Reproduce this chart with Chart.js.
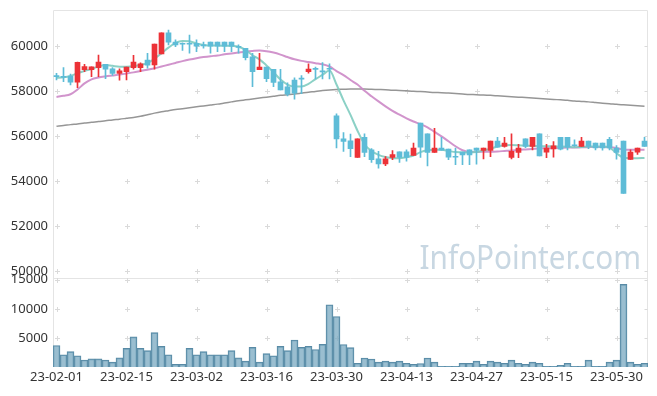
<!DOCTYPE html>
<html><head><meta charset="utf-8">
<script src="https://cdn.jsdelivr.net/npm/chart.js@4"></script>
<style>html,body{margin:0;padding:0;background:#fff}#wrap{width:657px;height:396px}</style>
</head><body><div id="wrap"><canvas id="c" width="657" height="396"></canvas></div>
<script>
const dates = ['23-02-01','23-02-02','23-02-03','23-02-06','23-02-07','23-02-08','23-02-09','23-02-10','23-02-13','23-02-14',
'23-02-15','23-02-16','23-02-17','23-02-20','23-02-21','23-02-22','23-02-23','23-02-24','23-02-27','23-02-28',
'23-03-02','23-03-03','23-03-06','23-03-07','23-03-08','23-03-09','23-03-10','23-03-13','23-03-14','23-03-15',
'23-03-16','23-03-17','23-03-20','23-03-21','23-03-22','23-03-23','23-03-24','23-03-27','23-03-28','23-03-29',
'23-03-30','23-03-31','23-04-03','23-04-04','23-04-05','23-04-06','23-04-07','23-04-10','23-04-11','23-04-12',
'23-04-13','23-04-14','23-04-17','23-04-18','23-04-19','23-04-20','23-04-21','23-04-24','23-04-25','23-04-26',
'23-04-27','23-04-28','23-05-02','23-05-03','23-05-04','23-05-08','23-05-09','23-05-10','23-05-11','23-05-12',
'23-05-15','23-05-16','23-05-17','23-05-18','23-05-19','23-05-22','23-05-23','23-05-24','23-05-25','23-05-26',
'23-05-30','23-05-31','23-06-01','23-06-02','23-06-05'];

const openP = [58700,58660,58680,58400,58960,58960,59050,59200,59000,58790,
58870,59050,59050,59390,59170,59660,60600,60180,60110,60110,
60130,60040,60190,60190,60190,60190,59970,59910,59530,58960,
59070,58980,58420,58200,58500,58560,58870,58990,58880,59000,
56910,55890,55800,55060,55960,55400,55000,54770,55060,55310,
55310,55150,56590,56110,55280,55480,55430,55100,55300,55400,
55480,55370,55370,55790,55550,55060,55280,55890,55550,56110,
55300,55440,55960,55960,55600,55550,55790,55700,55700,55870,
55480,55790,54970,55300,55790];
const highP = [58800,59050,58760,59300,59200,59082,59610,59200,59050,59000,
59070,59600,59260,59690,60100,60600,60720,60280,60150,60500,
60280,60180,60190,60190,60190,60190,60060,59910,59690,59690,
59070,58980,58980,58380,58600,58700,59215,59070,59270,59215,
57000,56170,56100,55890,56110,55460,55330,55100,55370,55310,
55400,55700,56590,56110,56360,55960,55430,55480,55300,55400,
55480,55480,55790,55960,55960,56110,55650,55890,55960,56110,
55650,55770,55960,55960,55850,55960,55790,55700,55700,55960,
55590,55790,55400,55480,55960];
const lowP = [58500,58430,58280,58160,58870,58650,58650,58560,58700,58490,
58500,58980,58870,59025,58980,59660,60060,59980,59820,59690,
59760,59910,59690,59760,59760,59760,59690,59390,58210,58960,
58430,58210,58060,57800,57650,57900,58800,58550,58550,58550,
55480,55330,55100,55060,55100,54840,54590,54700,54960,54840,
54900,55150,55060,54690,55280,55390,54960,54740,54740,54740,
54760,55000,55100,55520,55520,55000,55050,55500,55400,55135,
55050,55080,55400,55400,55550,55550,55450,55400,55380,55400,
54990,53460,54970,55200,55550];
const closeP = [58650,58620,58400,59290,59095,59082,59300,58980,58790,58905,
59070,59300,59215,59160,60100,60600,60180,60060,60090,60090,
60000,60020,60000,60000,60000,60000,59950,59490,58870,59070,
58560,58390,58060,57870,57920,58540,58990,58970,58860,58980,
55880,55770,55450,55890,55280,54960,54770,55000,55190,55060,
55060,55480,55520,55280,55480,55390,55080,55070,55170,55170,
55370,55480,55790,55520,55700,55330,55480,55550,55960,55135,
55480,55580,55430,55520,55580,55790,55550,55480,55480,55480,
55280,53460,55300,55480,55550];

const maShort = [58600,58620,58680,58800,58900,58990,59100,59170,59130,59095,
59095,59110,59170,59250,59450,59690,59940,60150,60235,60220,
60120,60060,60030,60030,60020,60010,59980,59840,59600,59420,
59150,58850,58520,58300,58210,58210,58330,58540,58730,58920,
58300,57600,56950,56250,55650,55350,55180,55080,55030,55030,
55080,55150,55300,55380,55400,55400,55350,55300,55280,55280,
55300,55370,55450,55550,55600,55610,55600,55590,55580,55570,
55560,55550,55550,55540,55520,55530,55540,55550,55550,55500,
55250,55050,55030,55030,55040];
const maMid = [57750,57800,57870,58080,58350,58530,58610,58660,58700,58740,
58790,58840,58900,58960,59020,59100,59180,59260,59340,59410,
59470,59520,59560,59590,59640,59680,59720,59760,59790,59810,
59780,59720,59630,59520,59420,59350,59300,59250,59200,59100,
58900,58720,58500,58300,58020,57780,57550,57330,57130,56960,
56800,56660,56540,56400,56200,56000,55780,55560,55380,55300,
55300,55320,55320,55330,55350,55370,55400,55420,55440,55460,
55470,55480,55490,55500,55500,55510,55520,55530,55530,55520,
55480,55410,55400,55400,55400];
const maLong = [56450,56480,56520,56550,56590,56620,56660,56690,56730,56760,
56800,56840,56890,56960,57030,57090,57140,57190,57230,57270,
57310,57350,57390,57430,57480,57530,57580,57620,57660,57700,
57740,57780,57820,57850,57880,57920,57960,57990,58030,58060,
58080,58090,58100,58100,58100,58090,58080,58070,58050,58040,
58020,58000,57990,57970,57950,57940,57920,57900,57880,57860,
57850,57830,57820,57800,57780,57760,57740,57720,57700,57680,
57660,57640,57620,57600,57570,57550,57530,57500,57470,57450,
57420,57400,57380,57360,57340];

const volume = [3700,2100,2650,1930,1200,1390,1390,1200,840,1570,
3190,5180,3190,2830,5900,3550,2110,480,480,3190,
2110,2650,2110,2110,2110,2830,1570,1020,3370,840,
2290,1930,3550,2830,4640,3370,3550,3010,3900,10700,
8690,3870,3330,650,1550,1370,830,1010,830,1010,
650,480,600,1550,830,120,120,120,650,650,
1010,480,1010,830,650,1190,650,480,830,650,
120,120,300,650,120,120,1190,120,120,830,
1190,14200,830,480,650];

const priceTicks = [50000,52000,54000,56000,58000,60000];
const volumeTicks = [5000,10000,15000];
const watermarkText = 'InfoPointer.com';

const UP = '#ec3237', DOWN = '#5ebcd7';
const candleColors = openP.map((o,i) => closeP[i] > o ? UP : DOWN);

const decor = {
  id: 'decor',
  beforeDatasetsDraw(chart) {
    const {ctx, scales} = chart;
    const x = scales.x, y = scales.y, yv = scales.yv;
    ctx.save();
    // watermark
    ctx.save();
    ctx.translate(x.right - 7, y.bottom - 9);
    ctx.scale(0.9, 1);
    ctx.font = '33px "Noto Sans"';
    ctx.fillStyle = '#c8d7e2';
    ctx.textAlign = 'right';
    ctx.textBaseline = 'alphabetic';
    ctx.fillText(watermarkText, 0, 0);
    ctx.restore();
    // borders
    const L = Math.round(x.left) + 0.5, R = Math.round(x.right) - 0.5;
    const T = Math.round(y.top) + 0.5, M = Math.round(y.bottom) + 0.5, B = Math.round(yv.bottom) - 0.5;
    ctx.strokeStyle = '#e4e4e4';
    ctx.lineWidth = 1;
    ctx.beginPath();
    ctx.moveTo(L, B); ctx.lineTo(L, T); ctx.lineTo(R, T); ctx.lineTo(R, B);
    ctx.moveTo(L, M); ctx.lineTo(R, M);
    ctx.stroke();
    // crosses
    ctx.strokeStyle = '#dadada';
    ctx.beginPath();
    const xs = [];
    dates.forEach((d, i) => { if (i % 10 === 0) xs.push(Math.round(x.getPixelForValue(i)) + 0.5); });
    const rows = priceTicks.map(v => Math.round(y.getPixelForValue(v)) + 0.5)
      .concat(volumeTicks.map(v => Math.round(yv.getPixelForValue(v)) + 0.5));
    rows.forEach(py => {
      xs.forEach(px => {
        ctx.moveTo(px - 2.5, py); ctx.lineTo(px + 2.5, py);
        ctx.moveTo(px, py - 2.5); ctx.lineTo(px, py + 2.5);
      });
      ctx.moveTo(R - 3, py); ctx.lineTo(R, py);
    });
    ctx.stroke();
    ctx.restore();
  }
};

const tickFont = {family: '"Noto Sans", sans-serif', size: 13};
const noGrid = {display: false, drawTicks: false, tickLength: 0};

function fitY(s) { s.width = 53; s.paddingTop = 0; s.paddingBottom = 0; }

new Chart(document.getElementById('c'), {
  data: {
    labels: dates,
    datasets: [
      {type: 'bar', label: 'body', data: openP.map((o,i) => [o, closeP[i]]), yAxisID: 'y',
       backgroundColor: candleColors, barThickness: 5, minBarLength: 1, grouped: false, order: 1},
      {type: 'bar', label: 'wick', data: lowP.map((l,i) => [l, highP[i]]), yAxisID: 'y',
       backgroundColor: candleColors, barThickness: 1, minBarLength: 1, grouped: false, order: 2},
      {type: 'line', label: 'ma5', data: maShort, yAxisID: 'y', borderColor: 'rgba(128,204,192,0.9)',
       borderWidth: 2, pointRadius: 0, cubicInterpolationMode: 'monotone', order: 3},
      {type: 'line', label: 'ma20', data: maMid, yAxisID: 'y', borderColor: 'rgba(204,136,198,0.9)',
       borderWidth: 2, pointRadius: 0, cubicInterpolationMode: 'monotone', order: 4},
      {type: 'line', label: 'ma120', data: maLong, yAxisID: 'y', borderColor: 'rgba(150,150,150,1)',
       borderWidth: 1.5, pointRadius: 0, cubicInterpolationMode: 'monotone', order: 5},
      {type: 'bar', label: 'volume', data: volume, yAxisID: 'yv',
       backgroundColor: 'rgba(120,168,192,0.75)', borderColor: 'rgba(88,138,165,1)', borderWidth: 1,
       barPercentage: 1, categoryPercentage: 1, grouped: false, order: 6}
    ]
  },
  options: {
    responsive: false,
    animation: false,
    devicePixelRatio: 1,
    layout: {padding: {top: 10, right: 9, left: 0, bottom: 0}},
    plugins: {legend: {display: false}, tooltip: {enabled: false}},
    scales: {
      x: {
        type: 'category', offset: true,
        grid: noGrid, border: {display: false},
        ticks: {autoSkip: false, maxRotation: 0, minRotation: 0, padding: 2, color: '#333', font: tickFont,
                callback: (v, i) => (i % 10 === 0 ? dates[i] : null)},
        afterFit: s => { s.height = 29; s.paddingLeft = 0; s.paddingRight = 0; }
      },
      yv: {
        type: 'linear', position: 'left', stack: 'panel', stackWeight: 1,
        min: 0, max: 15350,
        grid: noGrid, border: {display: false},
        afterBuildTicks: s => { s.ticks = volumeTicks.map(v => ({value: v})); },
        ticks: {padding: 5, color: '#333', font: tickFont, callback: v => String(v)},
        afterFit: fitY
      },
      y: {
        type: 'linear', position: 'left', stack: 'panel', stackWeight: 3,
        min: 49720, max: 61610,
        grid: noGrid, border: {display: false},
        afterBuildTicks: s => { s.ticks = priceTicks.map(v => ({value: v})); },
        ticks: {padding: 5, color: '#333', font: tickFont, callback: v => String(v)},
        afterFit: fitY
      }
    }
  },
  plugins: [decor]
});
</script>
</body></html>
